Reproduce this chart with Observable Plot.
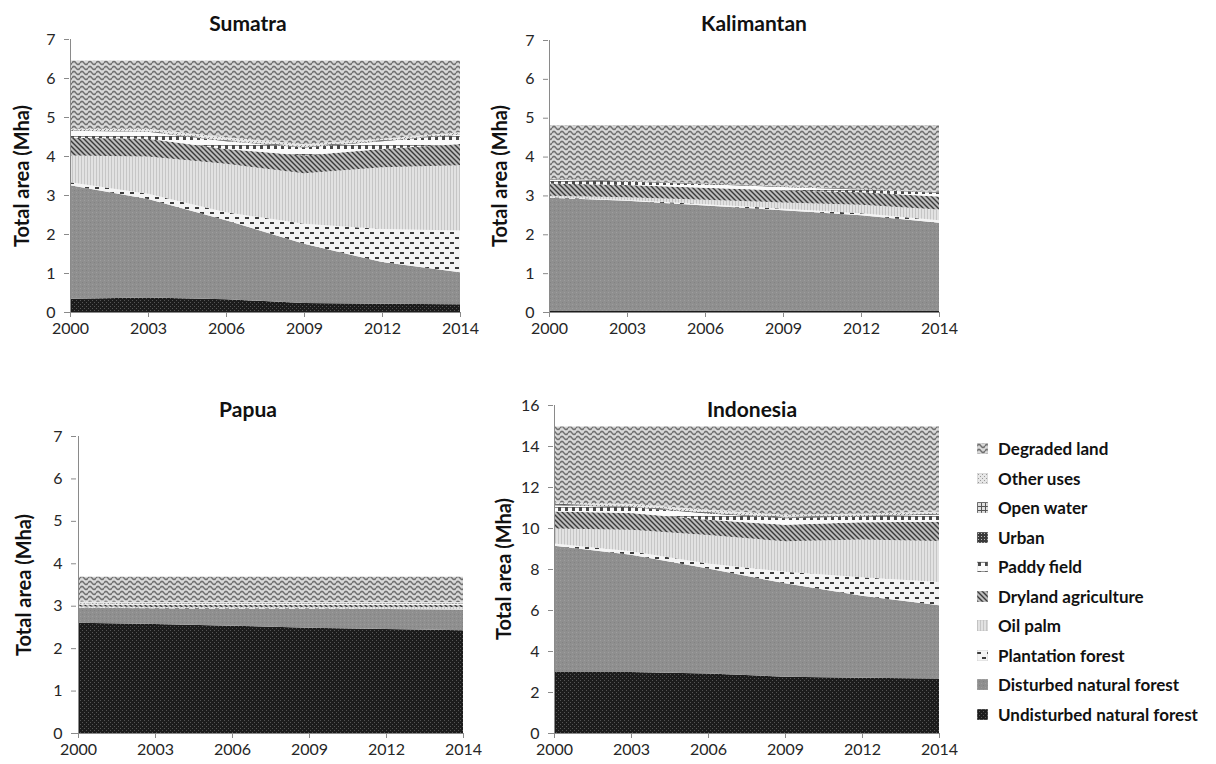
<!DOCTYPE html>
<html>
<head>
<meta charset="utf-8">
<script src="https://cdn.jsdelivr.net/npm/d3@7"></script>
<script src="https://cdn.jsdelivr.net/npm/@observablehq/plot@0.6"></script>
<style>
  body { margin: 0; background: #fff; font-family: Lato, "Open Sans", sans-serif; }
  #root { position: relative; width: 1216px; height: 764px; overflow: hidden; background: #fff; }
  .panel { position: absolute; }
  .title { position: absolute; font-weight: bold; font-size: 21px; color: #111; transform: translate(-50%, -50%); white-space: nowrap; }
  .ylabel { position: absolute; font-weight: bold; font-size: 20px; color: #111; transform: translate(-50%, -50%) rotate(-90deg); white-space: nowrap; }
  .legend { position: absolute; left: 977px; top: 434px; }
  .item { height: 29.5px; display: flex; align-items: center; font-weight: bold; font-size: 17px; color: #111; white-space: nowrap; }
  .item svg { margin-right: 10px; }
</style>
</head>
<body>
<svg width="0" height="0" style="position:absolute">
  <defs>
    <pattern id="p-undist" width="4" height="4" patternUnits="userSpaceOnUse">
      <rect width="4" height="4" fill="#1c1c1c"/>
      <rect x="0" y="0" width="1" height="1" fill="#555"/>
      <rect x="2" y="2" width="1" height="1" fill="#555"/>
    </pattern>
    <pattern id="p-dist" width="4" height="4" patternUnits="userSpaceOnUse">
      <rect width="4" height="4" fill="#8f8f8f"/>
      <rect x="0" y="0" width="1" height="1" fill="#9e9e9e"/>
      <rect x="2" y="2" width="1" height="1" fill="#828282"/>
    </pattern>
    <pattern id="p-plant" width="10" height="10" patternUnits="userSpaceOnUse">
      <rect width="10" height="10" fill="#f4f4f4"/>
      <rect x="0" y="2" width="4" height="2" fill="#3c3c3c"/>
      <rect x="5" y="7" width="4" height="2" fill="#3c3c3c"/>
    </pattern>
    <pattern id="p-oil" width="3" height="4" patternUnits="userSpaceOnUse">
      <rect width="3" height="4" fill="#e2e2e2"/>
      <rect x="0" y="0" width="1" height="4" fill="#c6c6c6"/>
    </pattern>
    <pattern id="p-dry" width="5" height="5" patternUnits="userSpaceOnUse">
      <rect width="5" height="5" fill="#bdbdbd"/>
      <path d="M0,0 L5,5 M-1,4 L1,6 M4,-1 L6,1" stroke="#3a3a3a" stroke-width="1.4"/>
    </pattern>
    <pattern id="p-paddy" width="7" height="9" patternUnits="userSpaceOnUse">
      <rect width="7" height="9" fill="#fbfbfb"/>
      <rect x="0" y="1" width="7" height="1" fill="#8a8a8a"/>
      <rect x="1" y="1" width="3" height="4" fill="#4a4a4a"/>
    </pattern>
    <pattern id="p-urban" width="3" height="3" patternUnits="userSpaceOnUse">
      <rect width="3" height="3" fill="#3a3a3a"/>
      <rect x="1" y="1" width="1" height="1" fill="#bbbbbb"/>
    </pattern>
    <pattern id="p-water" width="4" height="4" patternUnits="userSpaceOnUse">
      <rect width="4" height="4" fill="#e0e0e0"/>
      <rect x="0" y="0" width="1" height="4" fill="#555"/>
      <rect x="0" y="0" width="4" height="1" fill="#555"/>
    </pattern>
    <pattern id="p-other" width="4" height="4" patternUnits="userSpaceOnUse">
      <rect width="4" height="4" fill="#e6e6e6"/>
      <rect x="1" y="1" width="1" height="1" fill="#999"/>
      <rect x="3" y="3" width="1" height="1" fill="#999"/>
    </pattern>
    <pattern id="p-degr" width="8" height="5" patternUnits="userSpaceOnUse">
      <rect width="8" height="5" fill="#c4c4c4"/>
      <path d="M0,3 C1,1 3,1 4,3 C5,5 7,5 8,3" fill="none" stroke="#6f6f6f" stroke-width="1.3"/>
      <path d="M0,0.5 C1,-1.5 3,-1.5 4,0.5 C5,2.5 7,2.5 8,0.5" fill="none" stroke="#f0f0f0" stroke-width="1"/>
      <path d="M0,5.5 C1,3.5 3,3.5 4,5.5 C5,7.5 7,7.5 8,5.5" fill="none" stroke="#f0f0f0" stroke-width="1"/>
    </pattern>
  </defs>
</svg>
<div id="root"></div>
<script>
// ---- Data (Mha) ----
const years = ["2000", "2003", "2006", "2009", "2012", "2014"];

// bottom -> top of the stack
const categories = [
  "Undisturbed natural forest",
  "Disturbed natural forest",
  "Plantation forest",
  "Oil palm",
  "Dryland agriculture",
  "Paddy field",
  "Urban",
  "Open water",
  "Other uses",
  "Degraded land"
];
const patternIds = ["p-undist", "p-dist", "p-plant", "p-oil", "p-dry", "p-paddy", "p-urban", "p-water", "p-other", "p-degr"];

// one row per category (same order as categories), one value per year
const sumatraValues = [
  [0.34, 0.37, 0.33, 0.23, 0.21, 0.20],
  [2.91, 2.53, 2.02, 1.52, 1.07, 0.82],
  [0.08, 0.13, 0.21, 0.51, 0.85, 1.07],
  [0.68, 0.96, 1.24, 1.30, 1.58, 1.67],
  [0.46, 0.45, 0.38, 0.45, 0.47, 0.55],
  [0.18, 0.18, 0.20, 0.21, 0.20, 0.24],
  [0.01, 0.01, 0.01, 0.01, 0.01, 0.01],
  [0.02, 0.02, 0.02, 0.02, 0.02, 0.02],
  [0.02, 0.05, 0.07, 0.06, 0.03, 0.03],
  [1.75, 1.75, 1.97, 2.14, 2.01, 1.84]
];
const kalimantanValues = [
  [0.04, 0.04, 0.04, 0.04, 0.04, 0.04],
  [2.90, 2.82, 2.70, 2.58, 2.45, 2.26],
  [0.01, 0.02, 0.03, 0.04, 0.05, 0.06],
  [0.04, 0.07, 0.12, 0.16, 0.22, 0.28],
  [0.32, 0.32, 0.31, 0.31, 0.32, 0.33],
  [0.10, 0.09, 0.09, 0.09, 0.07, 0.10],
  [0.01, 0.01, 0.01, 0.01, 0.01, 0.01],
  [0.01, 0.01, 0.01, 0.01, 0.01, 0.01],
  [0.005, 0.005, 0.005, 0.005, 0.005, 0.005],
  [1.38, 1.43, 1.50, 1.57, 1.64, 1.72]
];
const papuaValues = [
  [2.60, 2.57, 2.53, 2.48, 2.45, 2.42],
  [0.35, 0.37, 0.40, 0.45, 0.47, 0.49],
  [0.01, 0.01, 0.01, 0.01, 0.01, 0.01],
  [0.02, 0.02, 0.03, 0.03, 0.04, 0.05],
  [0.05, 0.05, 0.05, 0.05, 0.05, 0.05],
  [0.02, 0.02, 0.02, 0.02, 0.02, 0.02],
  [0.01, 0.01, 0.01, 0.01, 0.01, 0.01],
  [0.01, 0.01, 0.01, 0.01, 0.01, 0.01],
  [0.03, 0.03, 0.03, 0.03, 0.03, 0.03],
  [0.58, 0.59, 0.59, 0.59, 0.59, 0.59]
];
const indonesiaValues = [
  [2.98, 2.98, 2.90, 2.75, 2.70, 2.66],
  [6.16, 5.72, 5.12, 4.55, 3.99, 3.57],
  [0.10, 0.16, 0.25, 0.56, 0.91, 1.14],
  [0.74, 1.05, 1.39, 1.49, 1.84, 2.00],
  [0.83, 0.82, 0.74, 0.81, 0.84, 0.93],
  [0.30, 0.29, 0.31, 0.32, 0.29, 0.36],
  [0.03, 0.03, 0.03, 0.03, 0.03, 0.03],
  [0.04, 0.04, 0.04, 0.04, 0.04, 0.04],
  [0.06, 0.09, 0.11, 0.10, 0.07, 0.07],
  [3.71, 3.77, 4.06, 4.30, 4.24, 4.15]
];

const ticks7 = [0, 1, 2, 3, 4, 5, 6, 7];
const ticks16 = [0, 2, 4, 6, 8, 10, 12, 14, 16];
const yLabel = "Total area (Mha)";

// ---- Drawing ----
function tidy(values) {
  const rows = [];
  categories.forEach((c, i) => years.forEach((y, j) => rows.push({category: c, year: y, value: values[i][j]})));
  return rows;
}

const root = document.getElementById("root");
const axisGray = "#8a8a8a";
const textColor = "#262626";

function addPanel(cfg) {
  const chart = Plot.plot({
    width: cfg.width, height: cfg.height,
    marginTop: cfg.mt, marginBottom: cfg.mb, marginLeft: cfg.ml, marginRight: cfg.mr,
    style: "font-family: Lato, 'Open Sans', sans-serif; font-size: 16px; color: #262626; background: transparent; overflow: visible;",
    x: {type: "point", domain: years, padding: 0, label: null},
    y: {domain: [0, cfg.yMax], label: null},
    color: {type: "ordinal", domain: categories, range: patternIds.map(id => `url(#${id})`)},
    marks: [
      Plot.areaY(tidy(cfg.values), {x: "year", y: "value", z: "category", fill: "category", order: categories}),
      Plot.ruleX([years[0]], {stroke: axisGray}),
      Plot.ruleY([0], {stroke: axisGray}),
      Plot.axisY({ticks: cfg.ticks, tickFormat: d3.format("d"), tickSize: 5, tickPadding: 9, stroke: axisGray, fill: textColor, label: null}),
      Plot.axisX({ticks: years, tickSize: 5, tickPadding: 5, stroke: axisGray, fill: textColor, label: null})
    ]
  });
  const div = document.createElement("div");
  div.className = "panel";
  div.style.left = cfg.left + "px";
  div.style.top = cfg.top + "px";
  div.style.width = cfg.width + "px";
  div.appendChild(chart);
  root.appendChild(div);

  const t = document.createElement("div");
  t.className = "title";
  t.textContent = cfg.title;
  t.style.left = cfg.titleX + "px";
  t.style.top = cfg.titleY + "px";
  root.appendChild(t);

  const yl = document.createElement("div");
  yl.className = "ylabel";
  yl.textContent = yLabel;
  yl.style.left = cfg.labelX + "px";
  yl.style.top = cfg.labelY + "px";
  root.appendChild(yl);
}

addPanel({title: "Sumatra", values: sumatraValues, yMax: 7, ticks: ticks7,
  left: 0, top: 0, width: 480, height: 345, mt: 39, mb: 33, ml: 69, mr: 20,
  titleX: 248, titleY: 22, labelX: 21, labelY: 176});
addPanel({title: "Kalimantan", values: kalimantanValues, yMax: 7, ticks: ticks7,
  left: 480, top: 0, width: 480, height: 345, mt: 40, mb: 33, ml: 68, mr: 21,
  titleX: 754, titleY: 22, labelX: 499, labelY: 176});
addPanel({title: "Papua", values: papuaValues, yMax: 7, ticks: ticks7,
  left: 0, top: 380, width: 480, height: 384, mt: 56, mb: 31, ml: 76, mr: 16,
  titleX: 248, titleY: 408, labelX: 23, labelY: 585});
addPanel({title: "Indonesia", values: indonesiaValues, yMax: 16, ticks: ticks16,
  left: 480, top: 380, width: 480, height: 384, mt: 25, mb: 31, ml: 73, mr: 20,
  titleX: 752, titleY: 408, labelX: 503, labelY: 569});

// Legend (top item = top of the stack)
const legend = document.createElement("div");
legend.className = "legend";
categories.slice().reverse().forEach(c => {
  const id = patternIds[categories.indexOf(c)];
  const item = document.createElement("div");
  item.className = "item";
  item.innerHTML = `<svg width="11" height="11"><rect width="11" height="11" fill="url(#${id})" stroke="#bbb" stroke-width="0.5"/></svg><span></span>`;
  item.querySelector("span").textContent = c;
  legend.appendChild(item);
});
root.appendChild(legend);
</script>
</body>
</html>
